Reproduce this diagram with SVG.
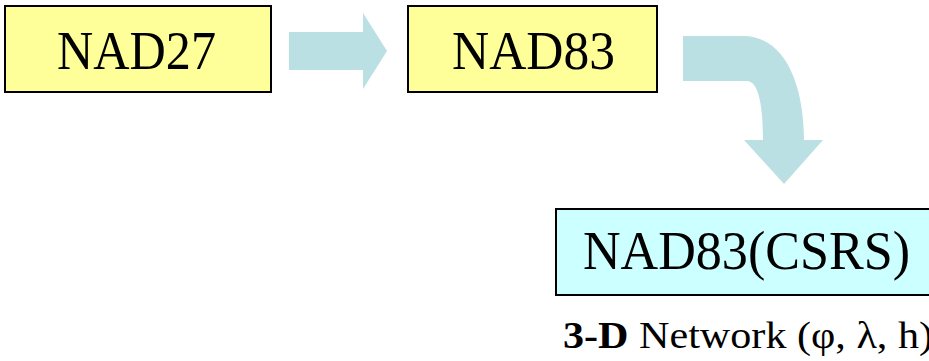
<svg xmlns="http://www.w3.org/2000/svg" width="929" height="361" viewBox="0 0 929 361">
<style>
.box{stroke:#000;stroke-width:2}
.y{fill:#FFFF99}
.c{fill:#CCFFFF}
.t{font-family:"Liberation Serif","Times New Roman",serif;fill:#000}
.big{font-size:54px}
.arrow{fill:#BBE0E3}
</style>
<rect width="929" height="361" fill="#fff"/>
<g id="connectors">
<path class="arrow" d="M289,32 H363 V13 L387,51 L363,89 V70 H289 Z"/>
<path class="arrow" d="M683,36 H743 C785,36 804,85 804,140 H823 L784,184 L744,140 H763 C763,100 757,81 747,81 H683 Z"/>
</g>
<g id="nad27">
<rect class="box y" x="5" y="6" width="266" height="86"/>
<text class="t big" x="57" y="69" textLength="159" lengthAdjust="spacingAndGlyphs">NAD27</text>
</g>
<g id="nad83">
<rect class="box y" x="408" y="6" width="249" height="86"/>
<text class="t big" x="452" y="69" textLength="163" lengthAdjust="spacingAndGlyphs">NAD83</text>
</g>
<g id="nad83csrs">
<rect class="box c" x="556" y="209" width="400" height="86"/>
<text class="t big" x="583" y="269" textLength="327" lengthAdjust="spacingAndGlyphs">NAD83(CSRS)</text>
</g>
<g id="label">
<text class="t" x="563" y="348" font-size="38" textLength="370" lengthAdjust="spacingAndGlyphs"><tspan font-weight="bold">3-D</tspan> Network (φ, λ, h)</text>
</g>
</svg>
